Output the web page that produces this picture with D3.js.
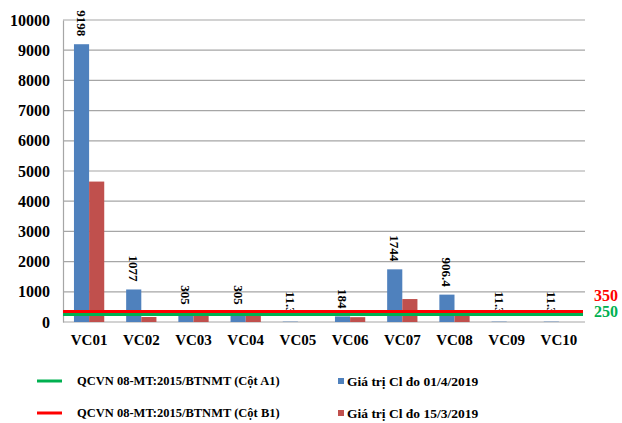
<!DOCTYPE html>
<html>
<head>
<meta charset="utf-8">
<script src="https://cdn.jsdelivr.net/npm/d3@7"></script>
<style>
  html, body { margin: 0; padding: 0; background: #fff; }
  svg { display: block; font-family: "Liberation Serif", "Times New Roman", serif; }
</style>
</head>
<body>
<svg id="chart" width="622" height="423"></svg>
<script>
// Chloride (Cl) measurements at sampling points VC01–VC10
const categories = ["VC01", "VC02", "VC03", "VC04", "VC05", "VC06", "VC07", "VC08", "VC09", "VC10"];
const seriesNames = ["Giá trị Cl đo 01/4/2019", "Giá trị Cl đo 15/3/2019"];
const valuesApr = [9198, 1077, 305, 305, 11.3, 184, 1744, 906.4, 11.3, 11.3];
const valuesMar = [4650, 165, 220, 220, 0, 160, 760, 220, 0, 0];
const labelsApr = ["9198", "1077", "305", "305", "11.3", "184", "1744", "906.4", "11.3", "11.3"];
const yTicks = [0, 1000, 2000, 3000, 4000, 5000, 6000, 7000, 8000, 9000, 10000];

// Standard limits (QCVN 08-MT:2015/BTNMT)
const limitNames = ["QCVN 08-MT:2015/BTNMT (Cột A1)", "QCVN 08-MT:2015/BTNMT (Cột B1)"];
const limitValues = [250, 350];
const limitLabels = ["250", "350"];

const barColors = ["#4f81bd", "#c0504d"];
const limitColors = ["#00b050", "#ff0000"];

const svg = d3.select("#chart");
const plotLeft = 63, plotRight = 585, plotTop = 20, plotBottom = 322;

const x = d3.scaleBand().domain(categories).range([plotLeft, plotRight])
  .paddingInner(0.42).paddingOuter(0.21);
const x1 = d3.scaleBand().domain([0, 1]).range([0, x.bandwidth()]);
const y = d3.scaleLinear().domain([0, 10000]).range([plotBottom, plotTop]);

// Gridlines
svg.append("g").selectAll("line").data(yTicks).join("line")
  .attr("x1", plotLeft).attr("x2", plotRight)
  .attr("y1", d => y(d)).attr("y2", d => y(d))
  .attr("stroke", "#a6a6a6").attr("stroke-width", 1.2);

// Y axis
const yAxis = svg.append("g").attr("transform", `translate(${plotLeft},0)`)
  .call(d3.axisLeft(y).tickValues(yTicks).tickSize(0).tickPadding(13).tickFormat(d3.format("d")));
yAxis.select(".domain").attr("stroke", "#a6a6a6").attr("stroke-width", 1.2);
yAxis.selectAll("text")
  .attr("font-family", "Liberation Serif, serif")
  .attr("font-size", 16).attr("font-weight", "bold").attr("fill", "#000");

// X axis labels
const xAxis = svg.append("g").attr("transform", `translate(0,${plotBottom})`)
  .call(d3.axisBottom(x).tickSize(0).tickPadding(12));
xAxis.select(".domain").remove();
xAxis.selectAll("text")
  .attr("font-family", "Liberation Serif, serif")
  .attr("font-size", 15).attr("font-weight", "bold").attr("fill", "#000");

// Bars
const seriesData = [valuesApr, valuesMar];
seriesData.forEach((vals, s) => {
  svg.append("g").selectAll("rect").data(vals).join("rect")
    .attr("x", (d, i) => x(categories[i]) + x1(s))
    .attr("width", x1.bandwidth())
    .attr("y", d => y(d))
    .attr("height", d => y(0) - y(d))
    .attr("fill", barColors[s]);
});

// Value labels above the 01/4/2019 bars, rotated
svg.append("g").selectAll("text").data(valuesApr).join("text")
  .attr("transform", (d, i) => `translate(${x(categories[i]) + x1(0) + x1.bandwidth() / 2},${y(d) - 8}) rotate(90)`)
  .attr("text-anchor", "end")
  .attr("dominant-baseline", "central")
  .attr("font-size", 13).attr("font-weight", "bold").attr("fill", "#000")
  .text((d, i) => labelsApr[i]);

// Limit lines with their value labels
[1, 0].forEach(k => {
  svg.append("line")
    .attr("x1", plotLeft).attr("x2", plotRight - 2)
    .attr("y1", y(limitValues[k])).attr("y2", y(limitValues[k]))
    .attr("stroke", limitColors[k]).attr("stroke-width", 3);
});
svg.append("text")
  .attr("x", 594).attr("y", y(limitValues[1]) - 10)
  .attr("font-size", 16).attr("font-weight", "bold").attr("fill", limitColors[1])
  .text(limitLabels[1]);
svg.append("text")
  .attr("x", 594).attr("y", y(limitValues[0]) + 3)
  .attr("font-size", 16).attr("font-weight", "bold").attr("fill", limitColors[0])
  .text(limitLabels[0]);

// Legend
const legRows = [381, 413];
const legend = svg.append("g");
limitNames.forEach((name, k) => {
  legend.append("line")
    .attr("x1", 37).attr("x2", 62).attr("y1", legRows[k]).attr("y2", legRows[k])
    .attr("stroke", limitColors[k]).attr("stroke-width", 3);
  legend.append("text")
    .attr("x", 77).attr("y", legRows[k]).attr("dominant-baseline", "central")
    .attr("font-size", 12.5).attr("font-weight", "bold").attr("fill", "#000")
    .text(name);
});
seriesNames.forEach((name, s) => {
  legend.append("rect")
    .attr("x", 338).attr("y", legRows[s] - 3).attr("width", 6).attr("height", 6)
    .attr("fill", barColors[s]);
  legend.append("text")
    .attr("x", 347).attr("y", legRows[s]).attr("dominant-baseline", "central")
    .attr("font-size", 13.5).attr("font-weight", "bold").attr("fill", "#000")
    .text(name);
});
</script>
</body>
</html>
